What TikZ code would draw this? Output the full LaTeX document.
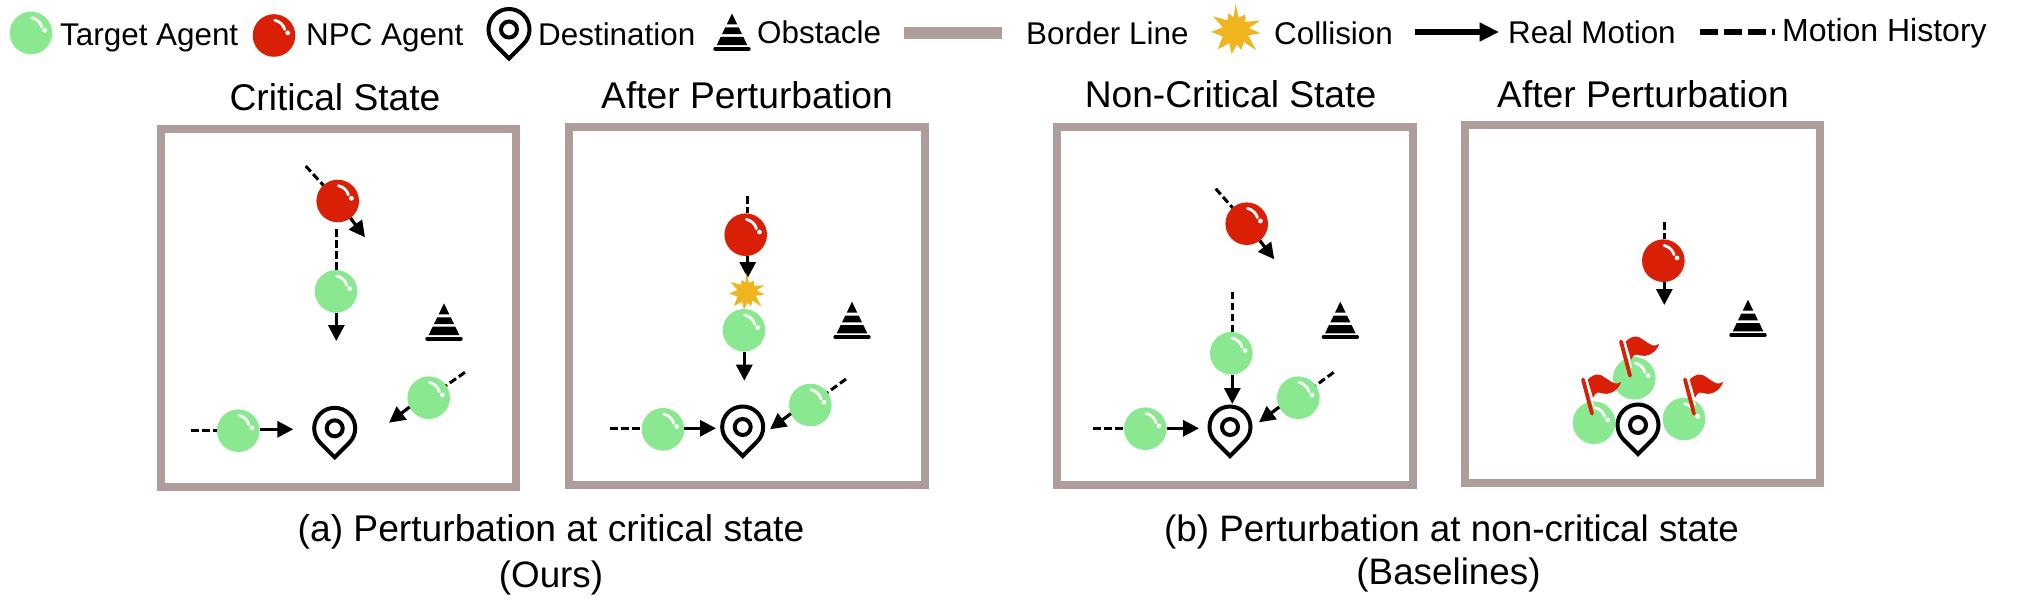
\documentclass[tikz,border=0pt]{standalone}
\usepackage{fontspec}
\setmainfont{Liberation Sans}
\usetikzlibrary{arrows.meta}
\definecolor{agentgreen}{HTML}{8AE891}
\definecolor{agentred}{HTML}{D92006}
\definecolor{bordercol}{HTML}{AF9D9C}
\definecolor{burstcol}{HTML}{F0B41F}
\tikzset{
  agent/.style={circle,inner sep=0pt,outer sep=0pt,minimum size=42.6pt},
  panel/.style={draw=bordercol,line width=8pt,fill=white,inner sep=0pt,outer sep=0pt},
  legtext/.style={inner sep=0pt,anchor=base west,font=\fontsize{31.4}{36}\selectfont},
  titletext/.style={inner sep=0pt,anchor=base,font=\fontsize{37.2}{42}\selectfont},
  captext/.style={inner sep=0pt,anchor=base,font=\fontsize{36.8}{42}\selectfont},
  motion/.style={line width=3.2pt,-{Triangle[length=16pt,width=16pt]}},
  history/.style={line width=3pt,dash pattern=on 7.5pt off 3.5pt},
  bigmotion/.style={line width=6pt,-{Triangle[length=19.5pt,width=18pt]}},
  bighistory/.style={line width=6pt,dash pattern=on 18pt off 6pt},
}
\newcommand{\agentball}[4]{% name, colour, x, y
  \node[agent,fill=#2] (#1) at (#3,#4) {};
  \begin{scope}[shift={(#3,#4)}]
    \draw[white,line width=2.8pt,line cap=round] (0.7,-15.3) .. controls (6,-14) and (9.5,-10.5) .. (10.7,-6);
    \fill[white] (13.7,-2.7) circle[radius=2.4];
  \end{scope}
}
\newcommand{\pinmark}[3]{% name, x, y of ring centre
  \coordinate (#1) at (#2,#3);
  \begin{scope}[shift={(#2,#3)}]
    \draw[line width=4pt,fill=white,miter limit=10] (135:20.5) arc (135:405:20.5) -- (0,29) -- cycle;
    \draw[line width=4pt] (0,0) circle[radius=8];
  \end{scope}
}
\newcommand{\obstaclemark}[3]{% name, x, top y
  \coordinate (#1) at (#2,#3);
  \begin{scope}[shift={(#2,#3)}]
    \fill (0,0) -- (5.3,11) -- (-5.3,11) -- cycle;
    \fill (-6.8,14) -- (6.8,14) -- (10,20.7) -- (-10,20.7) -- cycle;
    \fill (-11.3,23.3) -- (11.3,23.3) -- (15.3,31.7) -- (-15.3,31.7) -- cycle;
    \draw[line width=4pt,line cap=round] (-16.7,35.3) -- (16.7,35.3);
  \end{scope}
}
\newcommand{\burst}[5]{% name, x, y, half width, half height
  \coordinate (#1) at (#2,#3);
  \begin{scope}[shift={(#2,#3)},xscale=#4,yscale=#5]
    \fill[burstcol] (-90:1) -- (-77:.5) -- (-58:.7) -- (-42:.5) -- (-22:1) -- (-12:.52) -- (5:.95) -- (18:.5)
      -- (42:1.05) -- (52:.5) -- (72:.72) -- (84:.5) -- (100:.85) -- (118:.5) -- (135:.95) -- (158:.52)
      -- (178:.92) -- (195:.5) -- (212:1) -- (232:.5) -- (248:.7) -- (262:.5) -- cycle;
  \end{scope}
}
\newcommand{\redflag}[3]{% name, x, y of pole top
  \coordinate (#1) at (#2,#3);
  \begin{scope}[shift={(#2,#3)}]
    \draw[white,line width=1.6pt] (3.6,1) -- (10.2,26);
    \draw[agentred,line width=3.8pt,line cap=round] (0,0) -- (9,34.2);
    \fill[agentred] (4.7,0) .. controls (8,-3) and (11,-5) .. (15,-5)
      .. controls (20,-5) and (24,1) .. (32,4) .. controls (34,4.5) and (36,3.5) .. (38,2.3)
      .. controls (37.5,6) and (33,13) .. (24,14.3) .. controls (20,14.8) and (15,12) .. (14,13.3)
      .. controls (12.5,14) and (11,16) .. (10,18.3) -- cycle;
  \end{scope}
}
\begin{document}
\begin{tikzpicture}[x=1pt,y=-1pt]
\useasboundingbox (0,0) rectangle (2018,602);
% legend
\agentball{lg}{agentgreen}{31}{33}
\node[legtext] (ltarget) at (60,46) {Target Agent};
\agentball{lr}{agentred}{274}{35.5}
\node[legtext] (lnpc) at (306,46) {NPC Agent};
\pinmark{lpin}{509}{29.5}
\node[legtext] (ldest) at (538,46) {Destination};
\obstaclemark{lobs}{732}{13.5}
\node[legtext] (lobst) at (757,44) {Obstacle};
\node[fill=bordercol,minimum width=98pt,minimum height=12pt,inner sep=0pt] (lbar) at (953,33) {};
\node[legtext] (lborder) at (1026,45) {Border Line};
\burst{lburst}{1235.5}{31}{26.5}{27.5}
\node[legtext] (lcoll) at (1274,45) {Collision};
\coordinate (lma) at (1415,32);
\coordinate (lmb) at (1499,32);
\draw[bigmotion] (lma) -- (lmb);
\node[legtext] (lreal) at (1508,44) {Real Motion};
\coordinate (lha) at (1700,32);
\coordinate (lhb) at (1775,32);
\draw[bighistory] (lha) -- (lhb);
\node[legtext,font=\fontsize{32}{36}\selectfont] (lhist) at (1782,42) {Motion History};
% titles
\node[titletext] (t1) at (335,110) {Critical State};
\node[titletext] (t2) at (747,108) {After Perturbation};
\node[titletext] (t3) at (1230.5,107) {Non-Critical State};
\node[titletext] (t4) at (1643,107) {After Perturbation};
% panels
\node[panel,minimum width=355pt,minimum height=358pt] (p1) at (338.5,308) {};
\node[panel,minimum width=356pt,minimum height=358pt] (p2) at (747,306) {};
\node[panel,minimum width=356pt,minimum height=358pt] (p3) at (1235,306) {};
\node[panel,minimum width=355pt,minimum height=358pt] (p4) at (1642.5,304) {};
% panel 1
\agentball{ar}{agentred}{337.7}{201}
\agentball{ag}{agentgreen}{336}{291.3}
\agentball{agr}{agentgreen}{428.7}{397.7}
\agentball{agl}{agentgreen}{238.3}{430.7}
\pinmark{apin}{334.7}{428.3}
\obstaclemark{aobs}{444}{303.3}
\coordinate (arh) at (305.7,166);
\coordinate (art) at (365,237.3);
\coordinate (agh) at (336.3,229.3);
\coordinate (agt) at (336.3,341);
\coordinate (agrh) at (465,372.3);
\coordinate (agrt) at (389,422.7);
\coordinate (aglh) at (191.3,430.3);
\coordinate (aglt) at (293.3,429.3);
\draw[history] (arh) -- (ar);
\draw[motion] (ar) -- (art);
\draw[history] (agh) -- (ag.north -| agh);
\draw[motion] (ag.south -| agt) -- (agt);
\draw[history] (agrh) -- (agr.35);
\draw[motion] (agr.206) -- (agrt);
\draw[history] (aglh) -- (agl.west |- aglh);
\draw[motion] (agl.east |- aglt) -- (aglt);
% panel 2
\agentball{br}{agentred}{745.7}{234.7}
\coordinate (brh) at (747.7,196);
\coordinate (brt) at (747.7,278);
\draw[history] (brh) -- (br.north -| brh);
\draw[motion] (br.south -| brt) -- (brt);
\burst{bburst}{746.7}{292.7}{19}{20}
\agentball{bg}{agentgreen}{744}{330.3}
\agentball{bgr}{agentgreen}{810.3}{405}
\agentball{bgl}{agentgreen}{663}{429.3}
\pinmark{bpin}{742.7}{427}
\obstaclemark{bobs}{852}{301.7}
\coordinate (bgt) at (744.3,380.7);
\coordinate (bgrh) at (846,379);
\coordinate (bgrt) at (770,429.3);
\coordinate (bglh) at (610,428.3);
\coordinate (bglt) at (716,428.3);
\draw[motion] (bg.south -| bgt) -- (bgt);
\draw[history] (bgrh) -- (bgr.36);
\draw[motion] (bgr.204) -- (bgrt);
\draw[history] (bglh) -- (bgl.west |- bglh);
\draw[motion] (bgl.east |- bglt) -- (bglt);
% panel 3
\agentball{cr}{agentred}{1246.7}{223.7}
\agentball{cg}{agentgreen}{1231.3}{353.3}
\agentball{cgr}{agentgreen}{1298.3}{397.7}
\agentball{cgl}{agentgreen}{1145.3}{428.7}
\pinmark{cpin}{1230}{427}
\obstaclemark{cobs}{1340.3}{301.7}
\coordinate (crh) at (1215.7,188.7);
\coordinate (crt) at (1274.3,259.3);
\coordinate (cgh) at (1232.3,291.7);
\coordinate (cgt) at (1232.3,404);
\coordinate (cgrh) at (1333.7,372.3);
\coordinate (cgrt) at (1259,422.3);
\coordinate (cglh) at (1093.3,428.3);
\coordinate (cglt) at (1199,428.3);
\draw[history] (crh) -- (cr);
\draw[motion] (cr) -- (crt);
\draw[history] (cgh) -- (cg.north -| cgh);
\draw[motion] (cg.south -| cgt) -- (cgt);
\draw[history] (cgrh) -- (cgr.35);
\draw[motion] (cgr.206) -- (cgrt);
\draw[history] (cglh) -- (cgl.west |- cglh);
\draw[motion] (cgl.east |- cglt) -- (cglt);
% panel 4
\agentball{dr}{agentred}{1663.3}{260.7}
\agentball{dgt}{agentgreen}{1634.3}{378.3}
\agentball{dgl}{agentgreen}{1594}{422.7}
\agentball{dgr}{agentgreen}{1684}{419}
\pinmark{dpin}{1638}{425}
\obstaclemark{dobs}{1748}{299.7}
\coordinate (drh) at (1664.3,222.3);
\coordinate (drt) at (1664.3,305);
\draw[history] (drh) -- (dr.north -| drh);
\draw[motion] (dr.south -| drt) -- (drt);
\redflag{fa}{1621}{341.5}
\redflag{fb}{1583}{379.5}
\redflag{fc}{1685}{379.5}
% captions
\node[captext,font=\fontsize{37.2}{42}\selectfont] (c1) at (551,541.7) {(a) Perturbation at critical state};
\node[captext] (c2) at (551,587.5) {(Ours)};
\node[captext] (c3) at (1451.5,541) {(b) Perturbation at non-critical state};
\node[captext] (c4) at (1448.5,584) {(Baselines)};
\end{tikzpicture}
\end{document}
